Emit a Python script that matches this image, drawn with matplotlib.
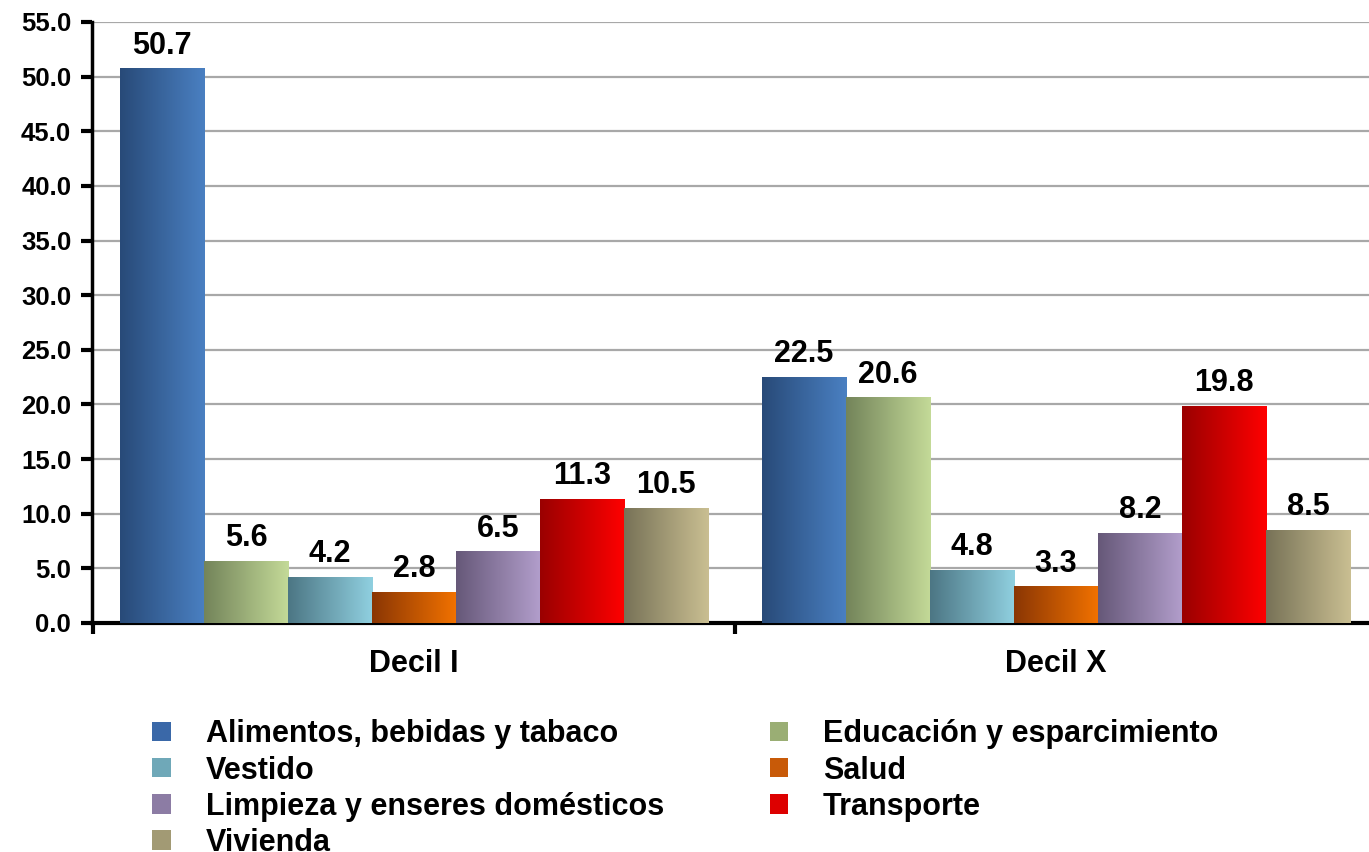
import matplotlib
matplotlib.use("Agg")
import matplotlib.pyplot as plt
import numpy as np
from matplotlib.colors import LinearSegmentedColormap
from matplotlib.patches import Rectangle

categories = ["Decil I", "Decil X"]
series = [
    "Alimentos, bebidas y tabaco",
    "Educación y esparcimiento",
    "Vestido",
    "Salud",
    "Limpieza y enseres domésticos",
    "Transporte",
    "Vivienda",
]
alimentos = [50.7, 22.5]
educacion = [5.6, 20.6]
vestido = [4.2, 4.8]
salud = [2.8, 3.3]
limpieza = [6.5, 8.2]
transporte = [11.3, 19.8]
vivienda = [10.5, 8.5]
values = [alimentos, educacion, vestido, salud, limpieza, transporte, vivienda]

# dark (left) -> light (right) gradient for each series
grads = [
    ("#284a78", "#4a80c2"),
    ("#73845a", "#c4da98"),
    ("#4c7684", "#90d0e0"),
    ("#8a3604", "#f27200"),
    ("#665878", "#b29ecc"),
    ("#9a0000", "#ff0000"),
    ("#777257", "#cabf92"),
]
mid_colors = ["#3a68a8", "#9aae74", "#6fa8b8", "#c85a08", "#8c7ca4", "#dd0000", "#a29a74"]

plt.rcParams["font.family"] = ["Liberation Sans", "DejaVu Sans"]
plt.rcParams["font.weight"] = "bold"

fig = plt.figure(figsize=(13.69, 8.52), dpi=100)
ax = fig.add_axes([92 / 1369, 1 - 623 / 852, 1 - 92 / 1369, (623 - 22) / 852])

n = len(series)
width = 0.1309
x = np.arange(len(categories))
gradient = np.linspace(0, 1, 256).reshape(1, -1)

for i, (name, vals) in enumerate(zip(series, values)):
    pos = x + (i - (n - 1) / 2) * width
    bars = ax.bar(pos, vals, width, color="none", edgecolor="none", zorder=3)
    cmap = LinearSegmentedColormap.from_list(name, grads[i])
    for b, v in zip(bars, vals):
        x0 = b.get_x()
        ax.imshow(gradient, cmap=cmap, aspect="auto", zorder=3,
                  extent=(x0, x0 + b.get_width(), 0, b.get_height()))
        ax.annotate(f"{v:.1f}", (x0 + b.get_width() / 2, b.get_height()),
                    xytext=(0, 6), textcoords="offset points",
                    ha="center", va="bottom", fontsize=22, fontweight="bold", zorder=4)

ax.set_yticks(np.arange(0, 56, 5))
ax.set_yticklabels([f"{t:.1f}" for t in np.arange(0, 56, 5)], fontsize=18.5, fontweight="bold")
ax.yaxis.grid(True, color="#a8a8a8", linewidth=1.6, zorder=0)
ax.set_axisbelow(True)

ax.set_xticks([-0.5, 0.5, 1.5])
ax.set_xticklabels([])
ax.set_xticks(x, minor=True)
ax.set_xticklabels(categories, minor=True, fontsize=22, fontweight="bold")
ax.tick_params(axis="x", which="minor", length=0, pad=19)
ax.tick_params(axis="x", which="major", length=8, width=3, direction="out")
ax.tick_params(axis="y", length=8, width=3, direction="out", pad=7)

ax.set_xlim(-0.5016, 1.4875)
ax.set_ylim(0, 55)

for side in ["top", "right"]:
    ax.spines[side].set_visible(False)
ax.spines["left"].set_linewidth(2.5)
ax.spines["bottom"].set_linewidth(3)

handles = [Rectangle((0, 0), 1, 1, facecolor=c, edgecolor="none") for c in mid_colors]
order = [0, 2, 4, 6, 1, 3, 5]
fig.legend([handles[k] for k in order], [series[k] for k in order],
           loc="upper left", bbox_to_anchor=(128 / 1369, 1 - 695 / 852),
           ncol=2, frameon=False, handlelength=0.6, handleheight=0.6,
           handletextpad=1.15, columnspacing=3.45, labelspacing=0.2,
           borderpad=0.3, prop={"weight": "bold", "size": 22})

fig.savefig("out.png", dpi=100)
